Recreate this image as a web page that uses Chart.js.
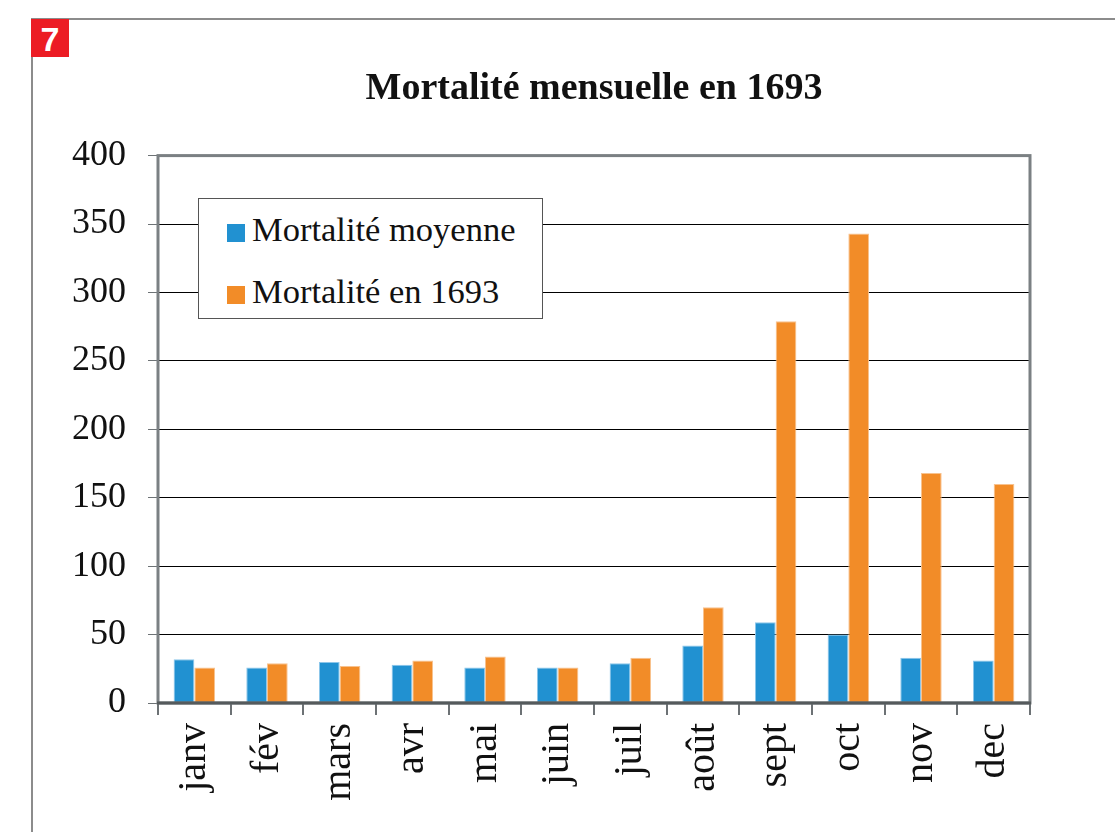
<!DOCTYPE html>
<html>
<head>
<meta charset="utf-8">
<script src="https://cdn.jsdelivr.net/npm/chart.js@4.4.0/dist/chart.umd.min.js"></script>
<style>
  body { margin: 0; background: #fff; }
  #page { position: relative; width: 1115px; height: 832px; overflow: hidden; }
  #frameTop { position: absolute; left: 31px; top: 18px; width: 1084px; height: 2px; background: #8c8c8c; }
  #frameLeft { position: absolute; left: 31px; top: 18px; width: 2px; height: 814px; background: #8c8c8c; }
  #badge { position: absolute; left: 31px; top: 19px; width: 38px; height: 38px; background: #ec1c24;
    color: #fff; font: bold 34px "Liberation Sans", Arial, sans-serif; text-align: center; line-height: 40px; }
  #wrap { position: absolute; left: 66px; top: 0; width: 1049px; height: 832px; }
  #legend { position: absolute; left: 198px; top: 198px; width: 343px; height: 119px; background: #fff;
    border: 1.5px solid #555; font: 34.5px "Liberation Serif", "Times New Roman", serif; color: #111; }
  #legend .item { position: absolute; left: 28px; height: 40px; line-height: 40px; white-space: nowrap; }
  #legend .sw { display: inline-block; width: 18px; height: 18px; margin-right: 7px; vertical-align: -1px; }
</style>
</head>
<body>
<div id="page">
  <div id="frameTop"></div>
  <div id="frameLeft"></div>
  <div id="badge">7</div>
  <div id="wrap"><canvas id="chart" width="1049" height="832"></canvas></div>
  <div id="legend"></div>
</div>
<script>
const months = ["janv", "fév", "mars", "avr", "mai", "juin", "juil", "août", "sept", "oct", "nov", "dec"];
const moyenne = [32, 26, 30, 28, 26, 26, 29, 42, 59, 50, 33, 31];
const annee1693 = [26, 29, 27, 31, 34, 26, 33, 70, 279, 343, 168, 160];
const yTicks = [0, 50, 100, 150, 200, 250, 300, 350, 400];

const serif = '"Liberation Serif", "Times New Roman", serif';

// gray frame around the plot area
const plotBox = {
  id: 'plotBox',
  afterDatasetsDraw(chart) {
    const a = chart.chartArea;
    const ctx = chart.ctx;
    ctx.save();
    ctx.strokeStyle = '#7b8083';
    ctx.lineWidth = 3;
    ctx.strokeRect(a.left, a.top, a.right - a.left, a.bottom - a.top);
    ctx.strokeStyle = '#555a5c';
    ctx.beginPath();
    ctx.moveTo(a.left - 1, a.bottom);
    ctx.lineTo(a.right + 1, a.bottom);
    ctx.stroke();
    ctx.restore();
  }
};

const chart = new Chart(document.getElementById('chart'), {
  type: 'bar',
  data: {
    labels: months,
    datasets: [
      {
        label: 'Mortalité moyenne',
        data: moyenne,
        backgroundColor: '#2191d1',
        borderColor: '#8cc6ea',
        borderWidth: 1
      },
      {
        label: 'Mortalité en 1693',
        data: annee1693,
        backgroundColor: '#f28c28',
        borderColor: '#f8c28e',
        borderWidth: 1
      }
    ]
  },
  options: {
    responsive: false,
    animation: false,
    categoryPercentage: 0.57,
    barPercentage: 1,
    layout: { padding: { left: 0, right: 85, top: 0, bottom: 0 } },
    plugins: {
      legend: { display: false },
      tooltip: { enabled: false },
      title: {
        display: true,
        fullSize: false, // centre over the plot area, not the whole canvas
        text: 'Mortalité mensuelle en 1693',
        color: '#111',
        font: { family: serif, size: 38, weight: 'bold', lineHeight: 1.2 },
        padding: { top: 66, bottom: 44 }
      }
    },
    scales: {
      x: {
        afterFit: s => { s.height = 129; },
        border: { display: false },
        grid: { drawOnChartArea: false, drawTicks: true, tickLength: 12, tickColor: '#6d7275', lineWidth: 2 },
        ticks: {
          color: '#111',
          font: { family: serif, size: 40 },
          minRotation: 90,
          maxRotation: 90,
          padding: 8,
          autoSkip: false
        }
      },
      y: {
        min: 0,
        max: 400,
        afterFit: s => { s.width = 92; },
        afterBuildTicks: s => { s.ticks = yTicks.map(v => ({ value: v })); },
        border: { display: false },
        grid: {
          color: c => (c.tick && (c.tick.value === 0 || c.tick.value === 400)) ? 'rgba(0,0,0,0)' : '#000',
          lineWidth: 1,
          tickLength: 10,
          tickColor: '#6d7275'
        },
        ticks: {
          color: '#111',
          font: { family: serif, size: 36 },
          padding: 22
        }
      }
    }
  },
  plugins: [plotBox]
});

// legend built from the datasets, sits inside the plot
const legendEl = document.getElementById('legend');
chart.data.datasets.forEach((ds, i) => {
  const item = document.createElement('div');
  item.className = 'item';
  item.style.top = (10 + i * 62) + 'px';
  const sw = document.createElement('span');
  sw.className = 'sw';
  sw.style.background = ds.backgroundColor;
  item.appendChild(sw);
  item.appendChild(document.createTextNode(ds.label));
  legendEl.appendChild(item);
});
</script>
</body>
</html>
